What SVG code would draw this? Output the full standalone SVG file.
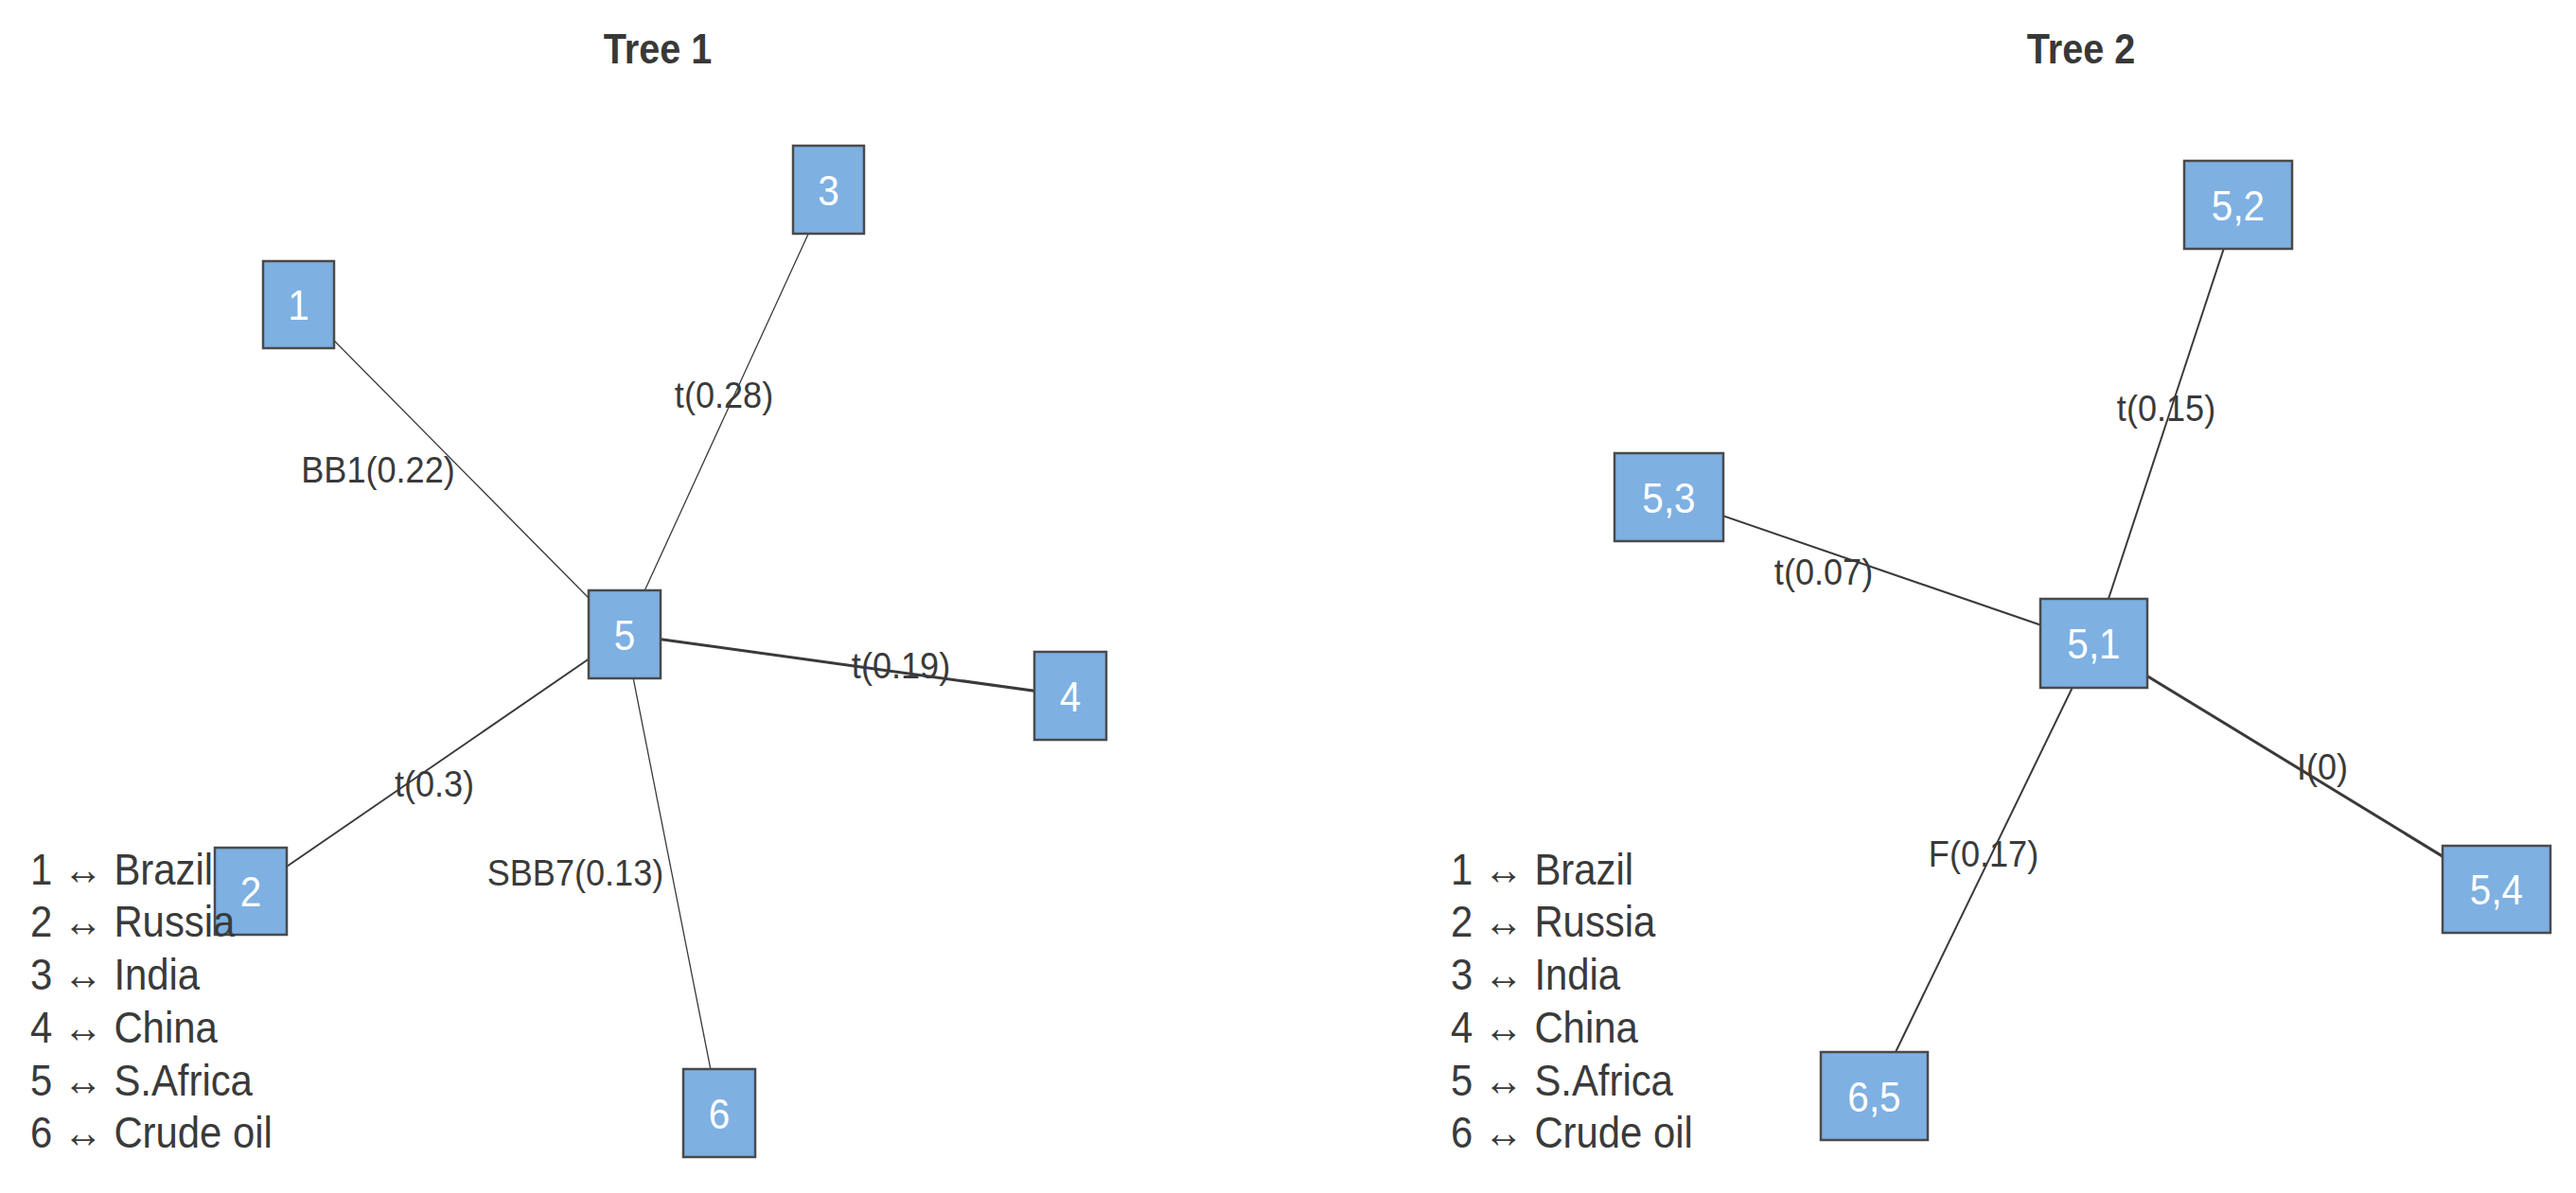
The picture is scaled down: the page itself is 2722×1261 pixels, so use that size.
<svg xmlns="http://www.w3.org/2000/svg" width="2722" height="1261" viewBox="0 0 2722 1261">
<style>
text{font-family:"Liberation Sans",Arial,sans-serif;}
.title{font-size:44px;font-weight:bold;fill:#383838;text-anchor:middle;}
.nl{font-size:44px;fill:#ffffff;text-anchor:middle;}
.el{font-size:38px;fill:#3a3a3a;text-anchor:middle;}
.lg{font-size:46px;fill:#3a3a3a;}
.node{fill:#7eb0e2;stroke:#4a4a4a;stroke-width:2.5;}
.e{stroke:#3a3a3a;fill:none;stroke-width:1.3;}
.e2{stroke:#3a3a3a;fill:none;stroke-width:2;}
.e3{stroke:#3a3a3a;fill:none;stroke-width:3;}
</style>
<rect x="0" y="0" width="2722" height="1261" fill="#ffffff"/>
<text class="title" transform="translate(695 67) scale(0.9 1)">Tree 1</text>
<text class="title" transform="translate(2199 67) scale(0.9 1)">Tree 2</text>
<g id="connectors">
<line class="e" x1="315.5" y1="322" x2="660" y2="670.5"/>
<line class="e" x1="875.5" y1="200.5" x2="660" y2="670.5"/>
<line class="e3" x1="1131" y1="735.5" x2="660" y2="670.5"/>
<line class="e2" x1="265" y1="942" x2="660" y2="670.5"/>
<line class="e" x1="760" y1="1176.5" x2="660" y2="670.5"/>
<line class="e2" x1="2365" y1="216.5" x2="2212.5" y2="680"/>
<line class="e2" x1="1763.5" y1="525.5" x2="2212.5" y2="680"/>
<line class="e3" x1="2638" y1="940" x2="2212.5" y2="680"/>
<line class="e2" x1="1980.5" y1="1158.5" x2="2212.5" y2="680"/>
</g>
<g id="edge-labels">
<text class="el" transform="translate(399.5 510) scale(0.95 1)">BB1(0.22)</text>
<text class="el" transform="translate(765 431) scale(0.95 1)">t(0.28)</text>
<text class="el" transform="translate(952 717) scale(0.95 1)">t(0.19)</text>
<text class="el" transform="translate(459 842) scale(0.95 1)">t(0.3)</text>
<text class="el" transform="translate(608 936) scale(0.95 1)">SBB7(0.13)</text>
<text class="el" transform="translate(2289 445) scale(0.95 1)">t(0.15)</text>
<text class="el" transform="translate(1927 618) scale(0.95 1)">t(0.07)</text>
<text class="el" transform="translate(2454 824) scale(0.95 1)">I(0)</text>
<text class="el" transform="translate(2096 916) scale(0.95 1)">F(0.17)</text>
</g>
<g id="n1"><rect class="node" x="278" y="276" width="75" height="92"/><text class="nl" transform="translate(315.5 338) scale(0.92 1)">1</text></g>
<g id="n3"><rect class="node" x="838" y="154" width="75" height="93"/><text class="nl" transform="translate(875.5 216.5) scale(0.92 1)">3</text></g>
<g id="n5"><rect class="node" x="622" y="624" width="76" height="93"/><text class="nl" transform="translate(660 686.5) scale(0.92 1)">5</text></g>
<g id="n4"><rect class="node" x="1093" y="689" width="76" height="93"/><text class="nl" transform="translate(1131 751.5) scale(0.92 1)">4</text></g>
<g id="n2"><rect class="node" x="227" y="896" width="76" height="92"/><text class="nl" transform="translate(265 958) scale(0.92 1)">2</text></g>
<g id="n6"><rect class="node" x="722" y="1130" width="76" height="93"/><text class="nl" transform="translate(760 1192.5) scale(0.92 1)">6</text></g>
<g id="n52"><rect class="node" x="2308" y="170" width="114" height="93"/><text class="nl" transform="translate(2365 232.5) scale(0.92 1)">5,2</text></g>
<g id="n53"><rect class="node" x="1706" y="479" width="115" height="93"/><text class="nl" transform="translate(1763.5 541.5) scale(0.92 1)">5,3</text></g>
<g id="n51"><rect class="node" x="2156" y="633" width="113" height="94"/><text class="nl" transform="translate(2212.5 696) scale(0.92 1)">5,1</text></g>
<g id="n54"><rect class="node" x="2581" y="894" width="114" height="92"/><text class="nl" transform="translate(2638 956) scale(0.92 1)">5,4</text></g>
<g id="n65"><rect class="node" x="1924" y="1112" width="113" height="93"/><text class="nl" transform="translate(1980.5 1174.5) scale(0.92 1)">6,5</text></g>
<g id="legend1">
<text class="lg" transform="translate(32 935) scale(0.91 1)">1 ↔ Brazil</text>
<text class="lg" transform="translate(32 990) scale(0.91 1)">2 ↔ Russia</text>
<text class="lg" transform="translate(32 1046) scale(0.91 1)">3 ↔ India</text>
<text class="lg" transform="translate(32 1102) scale(0.91 1)">4 ↔ China</text>
<text class="lg" transform="translate(32 1158) scale(0.91 1)">5 ↔ S.Africa</text>
<text class="lg" transform="translate(32 1213) scale(0.91 1)">6 ↔ Crude oil</text>
</g>
<g id="legend2">
<text class="lg" transform="translate(1533 935) scale(0.91 1)">1 ↔ Brazil</text>
<text class="lg" transform="translate(1533 990) scale(0.91 1)">2 ↔ Russia</text>
<text class="lg" transform="translate(1533 1046) scale(0.91 1)">3 ↔ India</text>
<text class="lg" transform="translate(1533 1102) scale(0.91 1)">4 ↔ China</text>
<text class="lg" transform="translate(1533 1158) scale(0.91 1)">5 ↔ S.Africa</text>
<text class="lg" transform="translate(1533 1213) scale(0.91 1)">6 ↔ Crude oil</text>
</g>
</svg>
